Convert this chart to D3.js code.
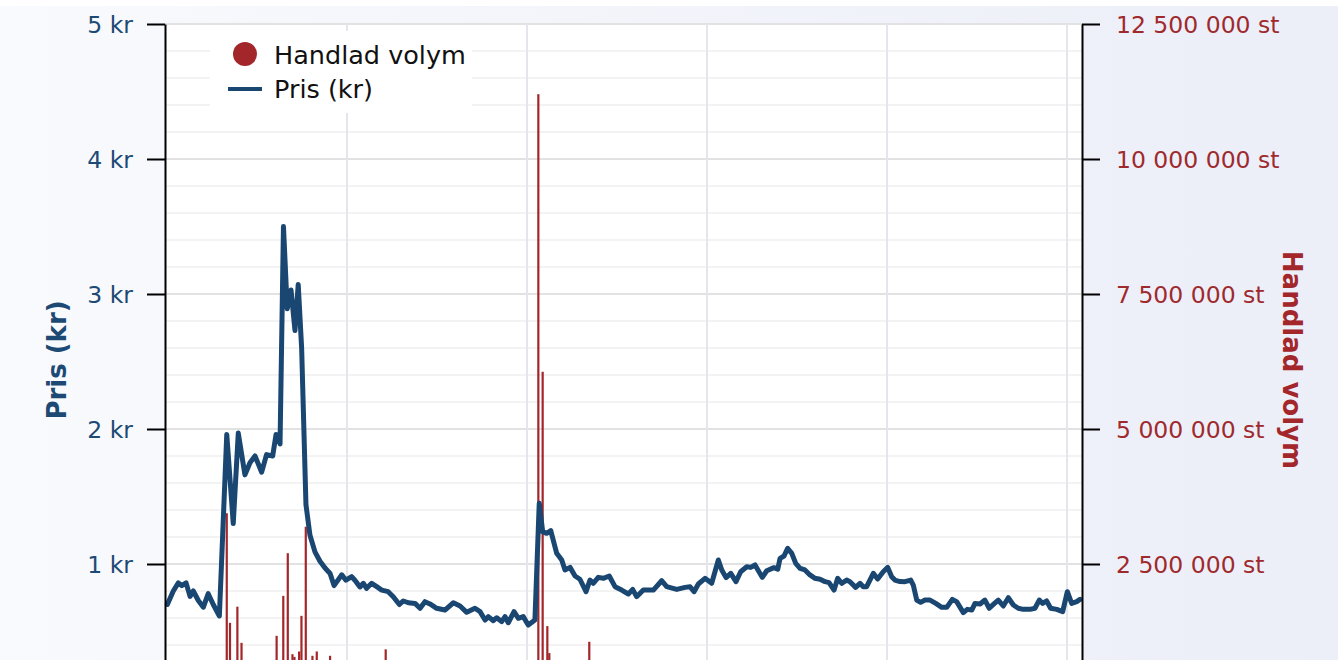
<!DOCTYPE html>
<html>
<head>
<meta charset="utf-8">
<script src="https://cdn.jsdelivr.net/npm/d3@7/dist/d3.min.js"></script>
<style>
  html, body { margin: 0; padding: 0; background: #ffffff; overflow: hidden; }
  svg { display: block; }
</style>
</head>
<body>
<svg id="chart" width="1338" height="660"></svg>
<script>
// ---- Data ----
// Time as decimal years
const priceT = [2013.002,2013.035,2013.063,2013.082,2013.106,2013.128,2013.146,2013.174,2013.202,2013.229,2013.257,2013.291,2013.332,2013.368,2013.396,2013.433,2013.461,2013.489,2013.526,2013.553,2013.587,2013.606,2013.628,2013.647,2013.668,2013.689,2013.711,2013.729,2013.748,2013.772,2013.794,2013.822,2013.850,2013.878,2013.906,2013.928,2013.971,2013.994,
2014.026,2014.044,2014.072,2014.091,2014.109,2014.137,2014.165,2014.193,2014.229,2014.257,2014.291,2014.313,2014.341,2014.378,2014.406,2014.433,2014.461,2014.498,2014.544,2014.591,2014.628,2014.665,2014.711,2014.739,2014.767,2014.785,2014.813,2014.832,2014.859,2014.878,2014.896,2014.928,2014.952,2014.979,
2015.007,2015.044,2015.068,2015.087,2015.109,2015.132,2015.165,2015.193,2015.211,2015.239,2015.267,2015.294,2015.328,2015.350,2015.368,2015.396,2015.424,2015.457,2015.489,2015.526,2015.563,2015.587,2015.609,2015.646,2015.702,2015.748,2015.776,2015.832,2015.878,2015.906,2015.928,2015.952,2015.989,
2016.026,2016.063,2016.082,2016.106,2016.132,2016.161,2016.187,2016.221,2016.243,2016.267,2016.307,2016.332,2016.372,2016.393,2016.406,2016.428,2016.448,2016.471,2016.493,2016.517,2016.544,2016.572,2016.600,2016.628,2016.656,2016.678,2016.706,2016.726,2016.748,2016.776,2016.794,2016.826,2016.850,2016.868,2016.887,2016.924,2016.948,2016.979,
2017.004,2017.026,2017.044,2017.072,2017.100,2017.132,2017.146,2017.165,2017.187,2017.211,2017.239,2017.271,2017.304,2017.332,2017.363,2017.387,2017.424,2017.446,2017.471,2017.489,2017.517,2017.544,2017.568,2017.591,2017.618,2017.646,2017.674,2017.702,2017.729,2017.757,2017.794,2017.822,2017.846,2017.865,2017.887,2017.909,2017.943,2017.976,
2018.002,2018.026,2018.054,2018.072];

const priceV = [0.70,0.80,0.86,0.84,0.86,0.76,0.80,0.73,0.68,0.78,0.70,0.615,1.96,1.30,1.97,1.66,1.75,1.80,1.68,1.81,1.80,1.96,1.89,3.50,2.89,3.03,2.73,3.07,2.60,1.44,1.215,1.09,1.02,0.97,0.93,0.84,0.92,0.88,
0.906,0.88,0.83,0.857,0.82,0.857,0.832,0.807,0.795,0.758,0.70,0.726,0.713,0.708,0.672,0.721,0.704,0.672,0.659,0.713,0.689,0.642,0.672,0.647,0.585,0.61,0.58,0.602,0.573,0.61,0.565,0.647,0.598,0.61,
0.548,0.585,1.45,1.24,1.227,1.247,1.079,1.03,0.956,0.975,0.911,0.887,0.795,0.881,0.857,0.901,0.894,0.911,0.832,0.807,0.778,0.812,0.758,0.807,0.807,0.876,0.832,0.812,0.827,0.832,0.795,0.852,0.894,
0.857,1.03,0.956,0.899,0.931,0.869,0.943,0.98,0.975,0.993,0.901,0.95,0.973,0.961,1.042,1.059,1.116,1.079,1.005,0.968,0.956,0.919,0.894,0.887,0.869,0.862,0.807,0.894,0.857,0.881,0.869,0.827,0.857,0.832,0.832,0.931,0.889,0.943,
0.975,0.906,0.881,0.87,0.869,0.881,0.844,0.733,0.716,0.733,0.733,0.708,0.679,0.679,0.738,0.721,0.64,0.664,0.659,0.708,0.704,0.733,0.672,0.701,0.733,0.689,0.75,0.696,0.672,0.664,0.664,0.672,0.733,0.708,0.726,0.672,0.664,0.647,
0.795,0.708,0.721,0.738];

const volumeT = [2013.332,2013.350,2013.391,2013.414,2013.609,2013.646,2013.671,2013.697,2013.708,2013.734,2013.747,2013.771,2013.808,2013.832,2013.906,2014.215,2015.063,2015.087,2015.113,2015.124,2015.346];
const volumeV = [3440000,1410000,1710000,1040000,1170000,1910000,2700000,830000,780000,880000,1540000,3190000,800000,880000,800000,920000,11200000,6060000,1350000,850000,1060000];

// visible tick labels (the 0-level and the time axis lie below the visible frame)
const priceTicks = [1,2,3,4,5];
const volumeTicks = [2500000,5000000,7500000,10000000,12500000];
const yearTicks = [2014,2015,2016,2017,2018];

const seriesNames = ["Handlad volym", "Pris (kr)"];
const priceColor = "#1a4672";
const volumeColor = "#a3262a";

// ---- Layout ----
const svg = d3.select("#chart");
const W = 1338;
const plot = { left: 165, right: 1082, top: 24, bottom: 699 };

const defs = svg.append("defs");
const grad = defs.append("linearGradient").attr("id","bg").attr("x1","0").attr("x2","1").attr("y1","0").attr("y2","0");
grad.append("stop").attr("offset","0%").attr("stop-color","#f9fafd");
grad.append("stop").attr("offset","100%").attr("stop-color","#eceef8");

svg.append("rect").attr("x",0).attr("y",6).attr("width",W).attr("height",700).attr("fill","url(#bg)");

// plot background
svg.append("rect").attr("x",plot.left).attr("y",plot.top)
  .attr("width",plot.right-plot.left).attr("height",plot.bottom-plot.top).attr("fill","#ffffff");

const x = d3.scaleLinear().domain([2013 - 2/180, 2013 + 915/180]).range([plot.left, plot.right]);
const yP = d3.scaleLinear().domain([0,5]).range([plot.bottom, plot.top]);
const yV = d3.scaleLinear().domain([0,12500000]).range([plot.bottom, plot.top]);

// grid
const grid = svg.append("g");
const minor = d3.range(0, 5.0001, 0.2).map(v => +v.toFixed(1));
grid.selectAll("line.hmin").data(minor.filter(v => Math.abs(v - Math.round(v)) > 1e-6)).join("line")
  .attr("x1",plot.left).attr("x2",plot.right)
  .attr("y1",d=>yP(d)).attr("y2",d=>yP(d))
  .attr("stroke","#efefef").attr("stroke-width",1.6);
grid.selectAll("line.hmaj").data(priceTicks).join("line")
  .attr("x1",plot.left).attr("x2",plot.right)
  .attr("y1",d=>yP(d)).attr("y2",d=>yP(d))
  .attr("stroke","#e2e2e2").attr("stroke-width",2);
grid.selectAll("line.v").data(yearTicks).join("line")
  .attr("x1",d=>x(d)).attr("x2",d=>x(d))
  .attr("y1",plot.top).attr("y2",plot.bottom)
  .attr("stroke","#e5e6ec").attr("stroke-width",2);

// volume bars
svg.append("g").selectAll("rect").data(volumeT.map((t,i)=>({t, v: volumeV[i]}))).join("rect")
  .attr("x", d => x(d.t) - 1.1)
  .attr("width", 2.2)
  .attr("y", d => yV(d.v))
  .attr("height", d => yV(0) - yV(d.v))
  .attr("fill", volumeColor);

// price line
const priceData = priceT.map((t,i)=>({t, v: priceV[i]}));
svg.append("path").datum(priceData)
  .attr("fill","none").attr("stroke",priceColor).attr("stroke-width",5)
  .attr("stroke-linejoin","round").attr("stroke-linecap","round")
  .attr("d", d3.line().x(d=>x(d.t)).y(d=>yP(d.v)));

// axes
const font = "'DejaVu Sans', Verdana, sans-serif";
const left = svg.append("g").attr("transform",`translate(${plot.left},0)`)
  .call(d3.axisLeft(yP).tickValues(priceTicks).tickSize(18).tickSizeOuter(0).tickPadding(14).tickFormat(d => d + " kr"));
left.select(".domain").attr("stroke","#000").attr("stroke-width",2);
left.selectAll(".tick line").attr("stroke","#000").attr("stroke-width",2);
left.selectAll(".tick text").attr("fill","#1d4a74").style("font-family",font).style("font-size","23.5px").attr("dy","0.34em");

const fmtVol = v => d3.format(",")(v).replace(/,/g," ") + " st";
const right = svg.append("g").attr("transform",`translate(${plot.right},0)`)
  .call(d3.axisRight(yV).tickValues(volumeTicks).tickSize(18).tickSizeOuter(0).tickPadding(16).tickFormat(fmtVol));
right.select(".domain").attr("stroke","#000").attr("stroke-width",2);
right.selectAll(".tick line").attr("stroke","#000").attr("stroke-width",2);
right.selectAll(".tick text").attr("fill","#9e2a2e").style("font-family",font).style("font-size","23.5px").attr("dy","0.34em");

// axis titles
svg.append("text").attr("transform","translate(57,360) rotate(-90)")
  .attr("text-anchor","middle").attr("dy","0.35em")
  .style("font-family",font).style("font-size","26px").style("font-weight","bold")
  .attr("fill","#1d4a74").text(seriesNames[1]);
svg.append("text").attr("transform","translate(1292,360) rotate(90)")
  .attr("text-anchor","middle").attr("dy","0.35em")
  .style("font-family",font).style("font-size","26px").style("font-weight","bold")
  .attr("fill","#a3262a").text(seriesNames[0]);

// legend
const lg = svg.append("g");
lg.append("rect").attr("x",210).attr("y",31).attr("width",262).attr("height",82).attr("fill","#ffffff");
lg.append("circle").attr("cx",245).attr("cy",54).attr("r",12).attr("fill",volumeColor);
lg.append("line").attr("x1",228).attr("x2",262).attr("y1",89).attr("y2",89).attr("stroke",priceColor).attr("stroke-width",4);
lg.append("text").attr("x",274).attr("y",55).attr("dy","0.35em").style("font-family",font).style("font-size","25.5px").attr("fill","#111").text(seriesNames[0]);
lg.append("text").attr("x",274).attr("y",89).attr("dy","0.35em").style("font-family",font).style("font-size","25.5px").attr("fill","#111").text(seriesNames[1]);
</script>
</body>
</html>
